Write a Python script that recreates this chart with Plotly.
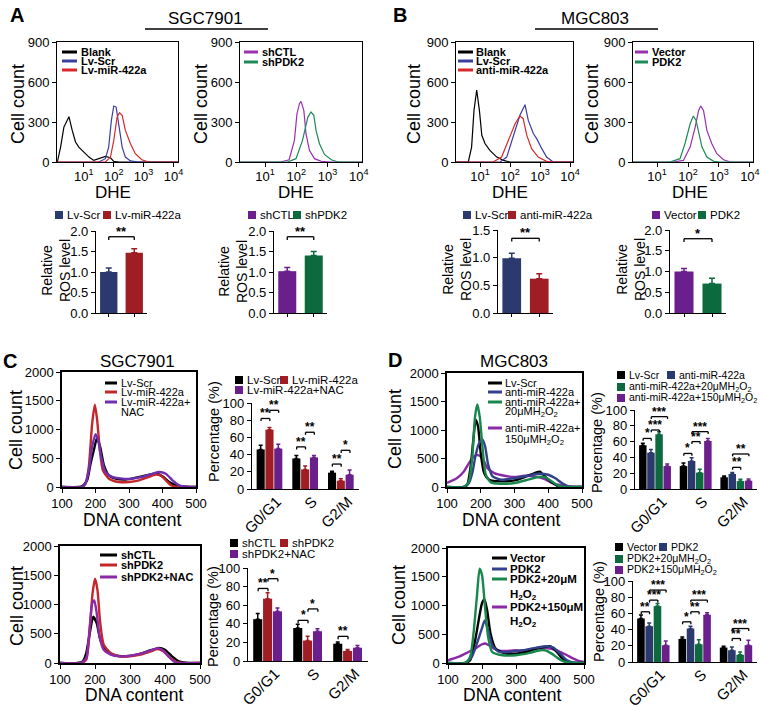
import plotly.graph_objects as go

# ===================== DATA =====================
# --- Panel A / B : DHE flow histograms (DHE intensity, cell count) ---
a1_blank_dhe = [1.26, 1.29, 1.66, 2.14, 2.75, 3.16, 4.07, 5.25, 6.76, 10, 14.8, 21.4, 31.6, 52.5, 77.6, 100, 148, 14000]
a1_blank_cnt = [0, 0, 112, 262, 312, 340, 237, 150, 112, 75, 37, 12, 25, 42, 32, 5, 0, 0]
a1_scr_dhe = [1.26, 31.6, 52.5, 67.6, 83.2, 100, 120, 148, 191, 245, 363, 676, 14000]
a1_scr_cnt = [0, 0, 25, 112, 312, 420, 412, 262, 112, 37, 8, 0, 0]
a1_mir_dhe = [1.26, 52.5, 77.6, 100, 129, 155, 191, 245, 363, 525, 871, 1479, 14000]
a1_mir_cnt = [0, 0, 37, 162, 337, 370, 350, 237, 137, 62, 17, 0, 0]

a2_shctl_dhe = [1.58, 31.6, 58.9, 87.1, 105, 126, 141, 174, 204, 263, 380, 631, 1259, 12600]
a2_shctl_cnt = [0, 0, 17, 162, 362, 437, 455, 387, 212, 87, 25, 5, 0, 0]
a2_shpdk2_dhe = [1.58, 52.5, 97.7, 158, 234, 295, 363, 427, 550, 794, 1318, 2138, 12600]
a2_shpdk2_cnt = [0, 0, 25, 162, 337, 375, 350, 237, 137, 57, 17, 0, 0]

b1_blank_dhe = [1.58, 4.07, 5.25, 6.31, 7.76, 9.55, 11.5, 14.8, 21.4, 36.3, 60.3, 100, 12600]
b1_blank_cnt = [0, 0, 112, 387, 540, 387, 200, 137, 87, 37, 12, 0, 0]
b1_scr_dhe = [1.58, 46.8, 77.6, 129, 214, 316, 407, 603, 776, 1148, 1660, 2754, 12600]
b1_scr_cnt = [0, 0, 37, 187, 350, 430, 312, 212, 175, 100, 37, 0, 0]
b1_anti_dhe = [1.58, 27.5, 52.5, 87.1, 148, 214, 275, 363, 525, 871, 1660, 2754, 12600]
b1_anti_cnt = [0, 0, 37, 162, 287, 345, 325, 200, 100, 37, 5, 0, 0]

b2_vec_dhe = [1.66, 33.1, 70.8, 117, 170, 219, 257, 316, 407, 589, 851, 1413, 2344, 12600]
b2_vec_cnt = [0, 0, 12, 112, 262, 387, 420, 387, 237, 137, 62, 17, 0, 0]
b2_pdk2_dhe = [1.66, 25.7, 55, 79.4, 117, 148, 182, 219, 282, 407, 676, 1096, 12600]
b2_pdk2_cnt = [0, 0, 25, 137, 287, 345, 312, 225, 112, 37, 5, 0, 0]

# --- Relative ROS level (mean, SEM) ---
ros_a1_names = ["Lv-Scr", "Lv-miR-422a"]
ros_a1_mean = [1.00, 1.47]
ros_a1_err = [0.10, 0.10]
ros_a2_names = ["shCTL", "shPDK2"]
ros_a2_mean = [1.02, 1.40]
ros_a2_err = [0.09, 0.10]
ros_b1_names = ["Lv-Scr", "anti-miR-422a"]
ros_b1_mean = [0.99, 0.62]
ros_b1_err = [0.09, 0.09]
ros_b2_names = ["Vector", "PDK2"]
ros_b2_mean = [1.00, 0.71]
ros_b2_err = [0.07, 0.13]

# --- Panel C / D : DNA content histograms ---
c1_scr_x = [100, 150, 160, 175, 185, 195, 205, 215, 225, 240, 260, 290, 320, 350, 380, 400, 420, 440, 460, 500]
c1_scr_y = [0, 0, 12, 116, 400, 640, 860, 670, 380, 200, 145, 130, 160, 200, 230, 185, 87, 30, 10, 0]
c1_mir_x = [100, 160, 170, 180, 190, 198, 205, 213, 222, 240, 270, 300, 330, 360, 380, 395, 410, 425, 450, 500]
c1_mir_y = [0, 0, 58, 350, 1100, 1430, 1160, 640, 290, 145, 87, 87, 116, 175, 215, 200, 116, 30, 0, 0]
c1_nac_x = [100, 160, 170, 180, 190, 200, 208, 217, 230, 250, 280, 310, 340, 370, 390, 410, 430, 450, 470, 500]
c1_nac_y = [0, 0, 58, 290, 700, 920, 810, 520, 260, 175, 145, 145, 175, 230, 260, 230, 116, 30, 5, 0]

c2_shctl_x = [100, 150, 165, 175, 185, 195, 205, 215, 230, 250, 280, 320, 350, 380, 400, 420, 440, 460, 500]
c2_shctl_y = [0, 0, 28, 170, 510, 790, 680, 400, 227, 142, 114, 142, 200, 255, 227, 114, 28, 5, 0]
c2_shpdk2_x = [100, 160, 175, 185, 193, 200, 207, 215, 225, 245, 270, 300, 330, 360, 378, 395, 415, 435, 450, 500]
c2_shpdk2_y = [0, 0, 57, 568, 1190, 1440, 1250, 680, 312, 170, 114, 114, 142, 200, 238, 200, 85, 11, 0, 0]
c2_nac_x = [100, 160, 175, 185, 192, 198, 205, 213, 225, 245, 270, 300, 330, 360, 380, 395, 410, 425, 440, 500]
c2_nac_y = [0, 0, 85, 625, 1020, 1070, 850, 455, 227, 142, 114, 125, 160, 215, 255, 215, 114, 28, 0, 0]

d1_scr_x = [100, 150, 160, 170, 178, 185, 192, 200, 210, 225, 260, 300, 330, 360, 375, 390, 410, 430, 450, 500]
d1_scr_y = [0, 0, 40, 360, 825, 1180, 1060, 590, 245, 128, 100, 116, 175, 245, 270, 186, 81, 12, 0, 0]
d1_anti_x = [100, 150, 165, 175, 185, 195, 205, 213, 222, 235, 260, 300, 340, 370, 400, 420, 440, 460, 480, 500]
d1_anti_y = [0, 0, 70, 245, 565, 767, 830, 710, 390, 186, 128, 157, 198, 233, 215, 157, 70, 12, 0, 0]
d1_h20_x = [100, 150, 165, 175, 183, 190, 197, 205, 215, 230, 260, 300, 340, 370, 390, 410, 430, 450, 500]
d1_h20_y = [0, 0, 100, 535, 1230, 1450, 1230, 710, 215, 81, 58, 70, 128, 175, 175, 100, 23, 0, 0]
d1_h150_x = [100, 130, 150, 165, 180, 192, 205, 220, 240, 270, 300, 330, 360, 390, 410, 430, 460, 500]
d1_h150_y = [70, 157, 273, 418, 535, 560, 505, 331, 245, 198, 175, 198, 186, 140, 70, 40, 12, 0]

d2_vec_x = [100, 150, 165, 180, 192, 200, 207, 215, 225, 240, 270, 300, 330, 360, 385, 400, 420, 440, 460, 480, 500]
d2_vec_y = [0, 0, 47, 397, 805, 1040, 1110, 920, 513, 250, 163, 163, 192, 250, 280, 292, 192, 58, 12, 0, 0]
d2_pdk2_x = [100, 150, 170, 185, 198, 208, 218, 230, 250, 280, 320, 360, 390, 410, 430, 450, 470, 490, 500]
d2_pdk2_y = [0, 0, 105, 338, 571, 740, 571, 309, 192, 192, 221, 268, 292, 268, 163, 47, 5, 0, 0]
d2_h20_x = [100, 150, 165, 175, 185, 193, 200, 208, 218, 230, 260, 300, 340, 370, 385, 405, 425, 445, 470, 500]
d2_h20_y = [0, 0, 105, 513, 1155, 1640, 1533, 1038, 455, 192, 134, 134, 175, 221, 221, 163, 76, 17, 0, 0]
d2_h150_x = [100, 130, 160, 180, 200, 210, 225, 245, 270, 300, 330, 360, 390, 420, 450, 480, 500]
d2_h150_y = [47, 105, 192, 250, 326, 340, 292, 221, 210, 221, 210, 250, 262, 221, 134, 47, 17]

# --- Cell cycle percentages (mean, SEM) ---
phases = ["G0/G1", "S", "G2/M"]
c1_bar_names = ["Lv-Scr", "Lv-miR-422a", "Lv-miR-422a+NAC"]
c1_bar_mean = [[46, 35.5, 19], [69, 22.8, 9.7], [47, 36.7, 16.6]]
c1_bar_err = [[5, 3.5, 1.5], [2.4, 3.8, 2.3], [5, 2.3, 5.4]]
c2_bar_names = ["shCTL", "shPDK2", "shPDK2+NAC"]
c2_bar_mean = [[45, 35.5, 18.6], [67, 22, 10.8], [53.4, 32, 14.3]]
c2_bar_err = [[6, 3.9, 1.8], [6.5, 4.5, 1.7], [3.6, 2.8, 2.5]]
d1_bar_names = ["Lv-Scr", "anti-miR-422a", "anti-miR-422a+20μMH<sub>2</sub>O<sub>2</sub>",
                "anti-miR-422a+150μMH<sub>2</sub>O<sub>2</sub>"]
d1_bar_mean = [[55.3, 29, 14.8], [46, 35.4, 19], [69.2, 20.7, 10], [29, 60.8, 10.5]]
d1_bar_err = [[2.5, 4, 1.7], [4, 4.3, 2], [3.4, 4.2, 2.2], [2.6, 3.2, 2.2]]
d2_bar_names = ["Vector", "PDK2", "PDK2+20μMH<sub>2</sub>O<sub>2</sub>", "PDK2+150μMH<sub>2</sub>O<sub>2</sub>"]
d2_bar_mean = [[53.7, 28.5, 17.8], [44.2, 41.3, 14.5], [69, 21.9, 9], [20.7, 58.3, 20.7]]
d2_bar_err = [[4.2, 2.5, 1.6], [4.1, 2.9, 4.1], [3.3, 5.5, 3.4], [5.3, 2.4, 6.2]]

# significance: (phase index, bar a, bar b, height, label)
c1_sig = [(0, 0, 1, 82, "**"), (0, 1, 2, 91.5, "**"), (1, 0, 1, 49, "**"), (1, 1, 2, 66, "**"),
          (2, 0, 1, 29, "**"), (2, 1, 2, 45, "*")]
c2_sig = [(0, 0, 1, 78, "**"), (0, 1, 2, 88.5, "*"), (1, 0, 1, 43.7, "*"), (1, 1, 2, 56, "*"),
          (2, 0, 1, 26.5, "**")]
d1_sig = [(0, 0, 1, 64, "*"), (0, 1, 2, 74.7, "***"), (0, 1, 3, 91.6, "***"), (1, 0, 1, 45, "*"),
          (1, 1, 2, 60, "**"), (1, 1, 3, 72.6, "***"), (2, 1, 2, 27.4, "**"), (2, 1, 3, 44.3, "**")]
d2_sig = [(0, 0, 1, 62, "**"), (0, 1, 2, 76.4, "***"), (0, 1, 3, 88.8, "***"), (1, 0, 1, 49.6, "*"),
          (1, 1, 2, 62, "**"), (1, 1, 3, 76.4, "***"), (2, 1, 2, 29, "**"), (2, 1, 3, 41.3, "***")]
ros_sig = [(1.86, "**"), (1.86, "**"), (1.35, "**"), (1.79, "*")]

# ===================== STYLE / LAYOUT =====================
W, H = 762, 706
FONT = "Liberation Sans, Arial, sans-serif"
BLACK = "#000000"
H_BLUE, H_RED, H_PURPLE, H_GREEN = "#3b3fa0", "#d8282a", "#9a2fb0", "#1e8a58"
NAVY, DRED, PURPLE, GREEN = "#2b3a6e", "#a01d24", "#6b1f8c", "#0d6a3e"
L_RED, L_PURPLE, L_NAVY, L_GREEN, L_PURPLE2 = "#c4262c", "#6f2fb0", "#33408a", "#17874c", "#8a2aa6"


def fx(p):
    return p / W


def fy(p):
    return 1 - p / H


def ref(i):
    return ("x" if i == 1 else f"x{i}"), ("y" if i == 1 else f"y{i}")


boxes = {
    1: (57, 178, 42, 162), 2: (240, 362, 42, 162), 3: (456, 573, 42, 162), 4: (633, 753, 42, 162),
    5: (96, 147, 231, 313), 6: (274, 327, 231, 313), 7: (498, 553, 230, 313), 8: (670, 726, 230, 313),
    9: (62, 196, 372, 487), 10: (252, 359, 403, 489), 11: (447, 582, 373, 487), 12: (635, 757, 410, 489),
    13: (60, 200, 546, 663), 14: (248, 368, 568, 661), 15: (448, 584, 548, 663), 16: (633, 757, 581, 662),
}

layout = dict(width=W, height=H, margin=dict(l=0, r=0, t=0, b=0, pad=0, autoexpand=False), showlegend=False,
              paper_bgcolor="white", plot_bgcolor="white", barmode="overlay",
              font=dict(family=FONT, color="black"))
shapes, annotations = [], []
fig = go.Figure()


def base_axis():
    return dict(showline=True, linecolor="black", linewidth=1.2, ticks="outside", ticklen=4,
                tickwidth=1.2, tickcolor="black", showgrid=False, zeroline=False, automargin=False,
                tickfont=dict(family=FONT, size=13, color="black"))


def set_axes(i, xcfg, ycfg):
    x0, x1, y0, y1 = boxes[i]
    xr, yr = ref(i)
    xa = base_axis(); xa.update(domain=[fx(x0), fx(x1)], anchor=yr); xa.update(xcfg)
    ya = base_axis(); ya.update(domain=[fy(y1), fy(y0)], anchor=xr); ya.update(ycfg)
    layout["xaxis" if i == 1 else f"xaxis{i}"] = xa
    layout["yaxis" if i == 1 else f"yaxis{i}"] = ya


def text(x, y, s, size, angle=0, bold=False, xanchor="center", yanchor="middle"):
    annotations.append(dict(x=fx(x), y=fy(y), xref="paper", yref="paper", text=(f"<b>{s}</b>" if bold else s),
                            showarrow=False, textangle=angle, xanchor=xanchor, yanchor=yanchor,
                            font=dict(family=FONT, size=size, color="black")))


def line_legend(x0, x1, xt, rows, size, bold):
    for y, s, c in rows:
        if c is not None:
            shapes.append(dict(type="line", xref="paper", yref="paper", x0=fx(x0), x1=fx(x1), y0=fy(y), y1=fy(y),
                               line=dict(color=c, width=3)))
        text(xt, y, s, size, bold=bold, xanchor="left")


def square_legend(items, size):
    for x, y, c, s in items:
        shapes.append(dict(type="rect", xref="paper", yref="paper", x0=fx(x), x1=fx(x + 8),
                           y0=fy(y + 4), y1=fy(y - 4), fillcolor=c, line=dict(width=0)))
        text(x + 10, y, s, size, xanchor="left")


def bracket(i, xa, xb, level, leg, label, size=12):
    xr, yr = ref(i)
    for (a0, b0, a1, b1) in [(xa, level - leg, xa, level), (xa, level, xb, level), (xb, level, xb, level - leg)]:
        shapes.append(dict(type="line", xref=xr, yref=yr, x0=a0, y0=b0, x1=a1, y1=b1,
                           line=dict(color="black", width=1.3)))
    annotations.append(dict(x=(xa + xb) / 2, y=level, xref=xr, yref=yr, text=f"<b>{label}</b>", showarrow=False,
                            yanchor="bottom", yshift=-4, font=dict(family=FONT, size=size, color="black")))


# ---------- histograms (A, B) ----------
log_ticks = [10, 100, 1000, 10000]
log_text = ["10<sup>1</sup>", "10<sup>2</sup>", "10<sup>3</sup>", "10<sup>4</sup>"]
hist_sets = {
    1: [(a1_blank_dhe, a1_blank_cnt, BLACK), (a1_scr_dhe, a1_scr_cnt, H_BLUE), (a1_mir_dhe, a1_mir_cnt, H_RED)],
    2: [(a2_shctl_dhe, a2_shctl_cnt, H_PURPLE), (a2_shpdk2_dhe, a2_shpdk2_cnt, H_GREEN)],
    3: [(b1_blank_dhe, b1_blank_cnt, BLACK), (b1_scr_dhe, b1_scr_cnt, H_BLUE), (b1_anti_dhe, b1_anti_cnt, H_RED)],
    4: [(b2_vec_dhe, b2_vec_cnt, H_PURPLE), (b2_pdk2_dhe, b2_pdk2_cnt, H_GREEN)],
}
hist_range = {1: [0.1, 4.15], 2: [0.2, 4.1], 3: [0.2, 4.1], 4: [0.22, 4.1]}
for i, sets in hist_sets.items():
    xr, yr = ref(i)
    for xs, ys, c in sets:
        fig.add_trace(go.Scatter(x=xs, y=ys, mode="lines", line=dict(color=c, width=1.2),
                                 xaxis=xr, yaxis=yr, hoverinfo="skip"))
    set_axes(i, dict(type="log", range=hist_range[i], tickvals=log_ticks, ticktext=log_text, mirror=True,
                     linewidth=1, ticklabelstandoff=-2),
             dict(range=[0, 900], tickvals=[0, 300, 600, 900], mirror=True, linewidth=1))

# ---------- ROS bars ----------
ros_sets = {5: (ros_a1_names, ros_a1_mean, ros_a1_err, [NAVY, DRED], 2.0),
            6: (ros_a2_names, ros_a2_mean, ros_a2_err, [PURPLE, GREEN], 2.0),
            7: (ros_b1_names, ros_b1_mean, ros_b1_err, [NAVY, DRED], 1.5),
            8: (ros_b2_names, ros_b2_mean, ros_b2_err, [PURPLE, GREEN], 2.0)}
for k, (i, (names, mean, err, cols, ymax)) in enumerate(ros_sets.items()):
    xr, yr = ref(i)
    for j in range(2):
        fig.add_trace(go.Bar(x=[names[j]], y=[mean[j]], marker=dict(color=cols[j], line=dict(width=0)),
                             width=0.68, offset=-0.34, xaxis=xr, yaxis=yr, hoverinfo="skip",
                             error_y=dict(type="data", array=[err[j]], arrayminus=[0], symmetric=False,
                                          color=cols[j], thickness=1.5, width=3)))
    set_axes(i, dict(type="category", categoryorder="array", categoryarray=names, range=[-0.5, 1.5],
                     showticklabels=False, ticklen=3),
             dict(range=[0, ymax], dtick=0.5, tickformat=".1f"))
    lvl, lab = ros_sig[k]
    bracket(i, 0, 1, lvl, 0.08 * ymax / 2, lab, size=13)

# ---------- DNA content line plots ----------
line_sets = {
    9: [(c1_scr_x, c1_scr_y, BLACK), (c1_mir_x, c1_mir_y, L_RED), (c1_nac_x, c1_nac_y, L_PURPLE)],
    11: [(d1_h150_x, d1_h150_y, L_PURPLE2), (d1_scr_x, d1_scr_y, BLACK), (d1_anti_x, d1_anti_y, L_NAVY),
         (d1_h20_x, d1_h20_y, L_GREEN)],
    13: [(c2_shctl_x, c2_shctl_y, BLACK), (c2_shpdk2_x, c2_shpdk2_y, L_RED), (c2_nac_x, c2_nac_y, L_PURPLE2)],
    15: [(d2_h150_x, d2_h150_y, L_PURPLE2), (d2_vec_x, d2_vec_y, BLACK), (d2_pdk2_x, d2_pdk2_y, L_NAVY),
         (d2_h20_x, d2_h20_y, L_GREEN)],
}
for i, sets in line_sets.items():
    xr, yr = ref(i)
    for xs, ys, c in sets:
        fig.add_trace(go.Scatter(x=xs, y=ys, mode="lines", line=dict(color=c, width=2.4, shape="spline",
                                                                     smoothing=0.6),
                                 xaxis=xr, yaxis=yr, hoverinfo="skip"))
    set_axes(i, dict(range=[100, 500], tickvals=[100, 200, 300, 400, 500], mirror=True, linewidth=1.5),
             dict(range=[0, 2000], tickvals=[0, 500, 1000, 1500, 2000], mirror=True, linewidth=1.5))

# ---------- cell-cycle bars ----------
bar_sets = {10: (c1_bar_mean, c1_bar_err, [BLACK, DRED, PURPLE], c1_sig, 0.74),
            12: (d1_bar_mean, d1_bar_err, [BLACK, NAVY, GREEN, PURPLE], d1_sig, 0.8),
            14: (c2_bar_mean, c2_bar_err, [BLACK, DRED, PURPLE], c2_sig, 0.74),
            16: (d2_bar_mean, d2_bar_err, [BLACK, NAVY, GREEN, PURPLE], d2_sig, 0.8)}
for i, (means, errs, cols, sigs, gw) in bar_sets.items():
    xr, yr = ref(i)
    n = len(means)
    w = gw / n
    for j in range(n):
        fig.add_trace(go.Bar(x=phases, y=means[j], marker=dict(color=cols[j], line=dict(width=0)),
                             width=w * 0.92, offset=-gw / 2 + j * w, xaxis=xr, yaxis=yr, hoverinfo="skip",
                             error_y=dict(type="data", array=errs[j], arrayminus=[0] * 3, symmetric=False,
                                          color=cols[j], thickness=1.5, width=2)))
    set_axes(i, dict(type="category", categoryorder="array", categoryarray=phases, range=[-0.5, 2.5],
                     ticks="", tickangle=-45, ticklabelshift=7, ticklabelstandoff=-3,
                     tickfont=dict(family=FONT, size=15, color="black")),
             dict(range=[0, 100], dtick=20))
    for (g, a, b, lvl, lab) in sigs:
        xa = g - gw / 2 + (a + 0.5) * w
        xb = g - gw / 2 + (b + 0.5) * w
        bracket(i, xa, xb, lvl, 3, lab, size=12)

# ===================== LEGENDS & TEXT =====================
line_legend(62, 77, 79, [(52, "Blank", BLACK), (61, "Lv-Scr", H_BLUE), (70, "Lv-miR-422a", H_RED)], 11, True)
line_legend(244, 258, 260, [(52, "shCTL", H_PURPLE), (62, "shPDK2", H_GREEN)], 11, True)
line_legend(458, 473, 474, [(52, "Blank", BLACK), (61, "Lv-Scr", H_BLUE), (70, "anti-miR-422a", H_RED)], 11, True)
line_legend(635, 648, 650, [(52, "Vector", H_PURPLE), (62, "PDK2", H_GREEN)], 11, True)

square_legend([(55, 215, NAVY, "Lv-Scr"), (103, 215, DRED, "Lv-miR-422a")], 11.5)
square_legend([(248, 215, PURPLE, "shCTL"), (293, 215, GREEN, "shPDK2")], 11.5)
square_legend([(463, 215, NAVY, "Lv-Scr"), (508, 215, DRED, "anti-miR-422a")], 11.5)
square_legend([(652, 215, PURPLE, "Vector"), (698, 215, GREEN, "PDK2")], 11.5)

line_legend(105, 117, 119, [(383, "Lv-Scr", BLACK), (392, "Lv-miR-422a", L_RED), (402, "Lv-miR-422a+", L_PURPLE),
                            (412, "NAC", None)], 11, False)
line_legend(488, 502, 503, [(383, "Lv-Scr", BLACK), (392, "anti-miR-422a", L_NAVY), (402, "anti-miR-422a+", L_GREEN),
                            (412, "20μMH<sub>2</sub>O<sub>2</sub>", None), (428, "anti-miR-422a+", L_PURPLE2),
                            (440, "150μMH<sub>2</sub>O<sub>2</sub>", None)], 11, False)
line_legend(100, 117, 119, [(555, "shCTL", BLACK), (565, "shPDK2", L_RED), (577, "shPDK2+NAC", L_PURPLE2)], 11, True)
line_legend(492, 507, 508, [(558, "Vector", BLACK), (569, "PDK2", L_NAVY), (579, "PDK2+20μM", L_GREEN),
                            (595, "H<sub>2</sub>O<sub>2</sub>", None), (607, "PDK2+150μM", L_PURPLE2),
                            (622, "H<sub>2</sub>O<sub>2</sub>", None)], 11.5, True)

square_legend([(235, 380, BLACK, c1_bar_names[0]), (280, 380, DRED, c1_bar_names[1]),
               (235, 390, PURPLE, c1_bar_names[2])], 11.5)
square_legend([(230, 543, BLACK, c2_bar_names[0]), (280, 543, DRED, c2_bar_names[1]),
               (230, 554, PURPLE, c2_bar_names[2])], 11.5)
square_legend([(617, 375, BLACK, d1_bar_names[0]), (667, 375, NAVY, d1_bar_names[1]),
               (617, 387, GREEN, d1_bar_names[2]), (617, 398, PURPLE, d1_bar_names[3])], 10.5)
square_legend([(615, 547, BLACK, d2_bar_names[0]), (659, 547, NAVY, d2_bar_names[1]),
               (615, 559, GREEN, d2_bar_names[2]), (615, 570, PURPLE, d2_bar_names[3])], 10.5)

# panel letters & titles
text(17, 15, "A", 20, bold=True)
text(400, 15, "B", 20, bold=True)
text(10, 361, "C", 20, bold=True)
text(395, 360, "D", 20, bold=True)
text(205, 19, "SGC7901", 17)
text(595, 19, "MGC803", 17)
shapes.append(dict(type="line", xref="paper", yref="paper", x0=fx(145), x1=fx(268), y0=fy(29), y1=fy(29),
                   line=dict(color="black", width=1.5)))
shapes.append(dict(type="line", xref="paper", yref="paper", x0=fx(535), x1=fx(658), y0=fy(29), y1=fy(29),
                   line=dict(color="black", width=1.5)))
text(137, 361, "SGC7901", 17)
text(514, 362, "MGC803", 17)

# axis titles
for (x, y) in [(18, 104), (201, 104), (414, 104), (592, 104), (16, 430), (395, 429), (17, 606), (399, 605)]:
    text(x, y, "Cell count", 18, angle=-90)
for x in [113, 296, 510, 690]:
    text(x, 192, "DHE", 17)
for (x, y) in [(56, 271), (233, 271), (457, 270), (631, 270)]:
    text(x, y, "Relative<br>ROS level", 14, angle=-90)
for (x, y) in [(132, 520), (511, 520), (134, 695), (512, 695)]:
    text(x, y, "DNA content", 17.5)
for (x, y) in [(214, 432), (597, 443), (213, 617), (599, 612)]:
    text(x, y, "Percentage (%)", 14.5, angle=-90)

layout["shapes"] = shapes
layout["annotations"] = annotations
fig.update_layout(**layout)
fig.write_html("out.html", config={"displayModeBar": False},
               post_script="document.body.style.margin='0px';document.body.style.padding='0px';")
